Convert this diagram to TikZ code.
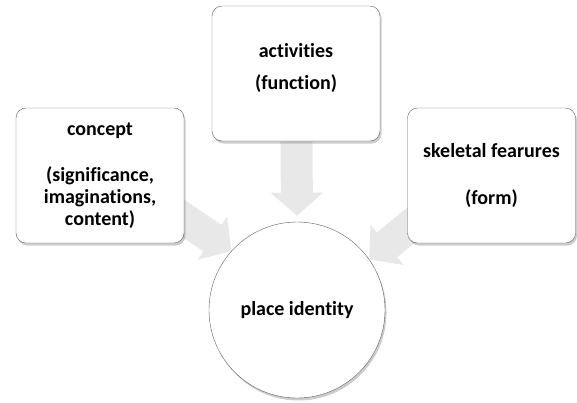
\documentclass[tikz,border=0pt]{standalone}
\usepackage{fontspec}
\setmainfont{Carlito}[RawFeature={-liga,-clig}]
\usetikzlibrary{positioning,shadows,arrows.meta,backgrounds}

\begin{document}
\begin{tikzpicture}[x=1pt,y=-1pt,
  box/.style={draw=gray!75!black,rounded corners=10pt,fill=white,
    minimum width=168pt,minimum height=135pt,align=center,
    font=\bfseries\fontsize{20}{22}\selectfont,
    drop shadow={shadow xshift=1.5pt,shadow yshift=-2.5pt,opacity=0.4}},
  hub/.style={circle,draw=gray!75!black,fill=white,minimum size=176pt,
    font=\bfseries\fontsize{20}{22}\selectfont,
    drop shadow={shadow xshift=1.5pt,shadow yshift=-2.5pt,opacity=0.4}},
  flow/.style={draw=gray!18,line width=32pt,-{Triangle[width=51pt,length=23pt]}}]
  \useasboundingbox (0,0) rectangle (577,402);

  \node[hub]  (hub)     at (297,310) {place identity};
  \node[box]  (concept) at (100,175.5) {concept\\[24pt](significance,\\imaginations,\\content)};
  \node[box]  (act)     at (296,73.5)  {activities\\[10pt](function)\\[-7pt]\mbox{}};
  \node[box]  (skel)    at (491.5,175.5) {skeletal fearures\\[25pt](form)};

  \begin{scope}[on background layer]
    \draw[flow] (act.center) -- ([yshift=6pt]hub.north);
    \draw[flow] ([xshift=20pt]concept.center) -- (hub.138);
    \draw[flow] ([xshift=-20pt]skel.center) -- (hub.35);
  \end{scope}
\end{tikzpicture}
\end{document}
